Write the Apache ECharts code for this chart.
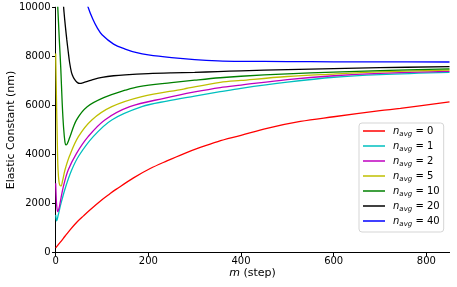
<!DOCTYPE html>
<html><head><meta charset="utf-8">
<script src="https://cdn.jsdelivr.net/npm/echarts@6/dist/echarts.min.js"></script>
<style>html,body{margin:0;padding:0;background:#fff}#c{width:457px;height:287px}</style>
</head><body><div id="c"></div>
<script>
const navgLabels = ['0','1','2','5','10','20','40'];
const colors = ['#ff0000','#00bfbf','#bf00bf','#bfbf00','#008000','#000000','#0000ff'];
const xTicks = [0,200,400,600,800];
const yTicks = [0,2000,4000,6000,8000,10000];

const m0 = [0,10,20,31,45,60,75,96,117,131,168,204,240,276,312,350,400,456,528,600,700,744,850];
const v0 = [200,430,670,930,1230,1500,1760,2100,2400,2590,3050,3430,3740,4030,4290,4530,4780,5070,5350,5540,5790,5880,6150];

const m1 = [0,1,2,5,11.4,21.6,34.5,50,81,121,186,240,300,355,400,500,600,700,850];
const v1 = [1540,1380,1300,1500,2010,2690,3370,3950,4730,5410,5950,6180,6380,6560,6700,6950,7150,7260,7350];

const m2 = [0,1,2,4.3,7,9.3,16.5,27,45,70,106,160,236,300,355,400,500,600,700,850];
const v2 = [2830,2300,1950,1670,1800,2010,2690,3370,4050,4730,5410,5950,6300,6550,6730,6830,7050,7210,7310,7390];

const m5 = [0,1,2,3,4,5,7,9,11.4,15,20,30,49,78,121,186,276,355,400,500,600,700,850];
const v5 = [8120,7000,5900,5000,4000,3400,2900,2750,2720,2950,3370,3950,4730,5410,5950,6360,6670,6940,7020,7180,7280,7370,7445];

const m10 = [0,2,4,6,8,11,14,17,20,22,25,30,45,68,105,150,180,250,300,355,400,500,600,700,850];
const v10 = [13000,11200,10200,9400,8600,7500,6100,5100,4500,4390,4440,4680,5410,5950,6330,6620,6770,6930,7030,7130,7190,7290,7360,7420,7490];

const m20 = [10,13,16,18,21,24,27,30,34,38,42,47,52,60,70,80,100,125,150,200,250,300,350,400,500,600,700,850];
const v20 = [14000,11800,10300,9800,9200,8670,8200,7750,7350,7150,7030,6930,6900,6930,6990,7050,7140,7210,7250,7300,7330,7350,7380,7410,7460,7500,7540,7580];

const m40 = [40,50,60,70,80,90,100,125,150,175,200,250,300,350,400,500,600,700,850];
const v40 = [14000,12000,10700,10000,9520,9150,8880,8500,8300,8150,8060,7950,7870,7820,7800,7790,7780,7775,7770];

const mList = [m0,m1,m2,m5,m10,m20,m40];
const vList = [v0,v1,v2,v5,v10,v20,v40];

const FONT = 'DejaVu Sans';
const chart = echarts.init(document.getElementById('c'), null, {renderer:'canvas'});
const series = navgLabels.map((lab,i)=>({
  name: lab,
  type: 'line',
  data: mList[i].map((m,j)=>[m, vList[i][j]]),
  smooth: 0.35,
  showSymbol: false,
  symbol: 'none',
  clip: true,
  lineStyle: {color: colors[i], width: 1.3},
  itemStyle: {color: colors[i]},
  z: 2 + i,
  animation: false
}));

chart.setOption({
  animation: false,
  grid: {left: 55.7, right: 7.5, top: 7.3, bottom: 34.3, containLabel: false, outerBoundsMode: 'none'},
  xAxis: [{
    type: 'value', min: 0, max: 850, interval: 200,
    axisLine: {show: true, lineStyle: {color: '#000', width: 1}},
    axisTick: {show: true, inside: false, length: 3.5, lineStyle: {color: '#000'}, customValues: xTicks},
    axisLabel: {margin: 4, color: '#000', fontFamily: FONT, fontSize: 10, customValues: xTicks},
    splitLine: {show: false},
    name: '{i|m} (step)', nameLocation: 'middle', nameGap: 15, nameMoveOverlap: false,
    nameTextStyle: {color: '#000', fontFamily: FONT, fontSize: 11,
      rich: {i: {fontStyle: 'italic', fontFamily: FONT, fontSize: 11, color: '#000'}}}
  },{
    type: 'value', position: 'top', min: 0, max: 850, interval: 200,
    axisLine: {show: true, lineStyle: {color: '#000', width: 1}},
    axisTick: {show: true, inside: true, length: 3.5, lineStyle: {color: '#000'}, customValues: xTicks},
    axisLabel: {show: false}, splitLine: {show: false}
  }],
  yAxis: [{
    type: 'value', min: 0, max: 10000, interval: 2000,
    axisLine: {show: true, lineStyle: {color: '#000', width: 1}},
    axisTick: {show: true, inside: false, length: 3.5, lineStyle: {color: '#000'}},
    axisLabel: {margin: 5, color: '#000', fontFamily: FONT, fontSize: 10, formatter: v => String(v)},
    splitLine: {show: false},
    name: 'Elastic Constant (nm)', nameLocation: 'middle', nameGap: 39, nameMoveOverlap: false,
    nameTextStyle: {color: '#000', fontFamily: FONT, fontSize: 11}
  },{
    type: 'value', position: 'right', min: 0, max: 10000, interval: 2000,
    axisLine: {show: true, lineStyle: {color: '#000', width: 1}},
    axisTick: {show: true, inside: true, length: 3.5, lineStyle: {color: '#000'}},
    axisLabel: {show: false}, splitLine: {show: false}
  }],
  legend: {
    orient: 'vertical', left: 359, top: 123,
    padding: [3, 4, 4, 4], itemGap: 3,
    itemWidth: 22, itemHeight: 1.5, icon: 'rect',
    backgroundColor: 'rgba(255,255,255,0.8)', borderColor: '#d5d5d5', borderWidth: 1, borderRadius: 3,
    data: navgLabels,
    formatter: function(name){ return '{n|n}{s|avg}{t| = ' + name + '}'; },
    textStyle: {
      fontFamily: FONT, fontSize: 10, color: '#000',
      rich: {
        n: {fontStyle: 'italic', fontFamily: FONT, fontSize: 10, lineHeight: 14, padding: [0,0,0,3], color: '#000'},
        s: {fontStyle: 'italic', fontFamily: FONT, fontSize: 7, lineHeight: 14, verticalAlign: 'bottom', color: '#000'},
        t: {fontFamily: FONT, fontSize: 10, lineHeight: 14, color: '#000'}
      }
    }
  },
  series: series
});
</script></body></html>
